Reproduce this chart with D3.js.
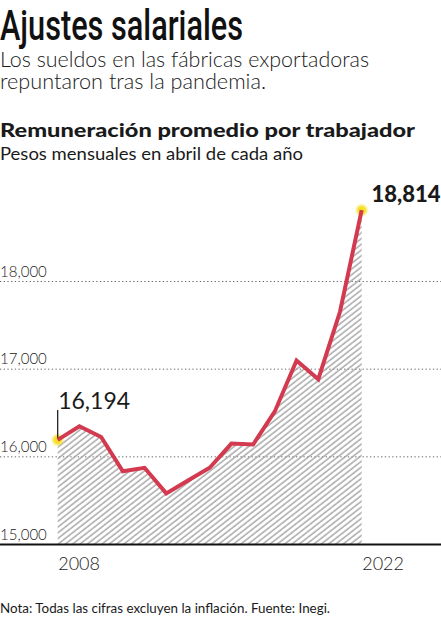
<!DOCTYPE html>
<html>
<head>
<meta charset="utf-8">
<script src="https://cdn.jsdelivr.net/npm/d3@7"></script>
<style>
  html, body { margin: 0; padding: 0; background: #fff; }
  svg { display: block; }
  text { font-family: Lato, "Open Sans", sans-serif; fill: #1a1a1a; }
</style>
</head>
<body>
<svg id="chart" width="441" height="620"></svg>
<script>
// ---- data ----
const years = [2008, 2009, 2010, 2011, 2012, 2013, 2014, 2015, 2016, 2017, 2018, 2019, 2020, 2021, 2022];
const salaries = [16194, 16348, 16227, 15836, 15875, 15583, 15730, 15875, 16151, 16140, 16518, 17098, 16886, 17655, 18814];
const yTicks = [15000, 16000, 17000, 18000];
const yTickLabels = ["15,000", "16,000", "17,000", "18,000"];
const xTickYears = [2008, 2022];
const firstLabel = "16,194";
const lastLabel = "18,814";

const svg = d3.select("#chart");

// ---- scales ----
const x = d3.scaleLinear().domain([2008, 2022]).range([57.7, 361.7]);
const y = d3.scaleLinear().domain([15000, 18000]).range([544.5, 281.5]);

// ---- titles ----
svg.append("text")
  .attr("x", 0).attr("y", 39.5)
  .attr("textLength", 243).attr("lengthAdjust", "spacingAndGlyphs")
  .style("font-family", "Roboto, sans-serif")
  .style("font-weight", 500)
  .style("font-size", "43px")
  .style("fill", "#111")
  .text("Ajustes salariales");

svg.append("text")
  .attr("x", 0).attr("y", 67)
  .attr("textLength", 369).attr("lengthAdjust", "spacingAndGlyphs")
  .style("font-weight", 300).style("font-size", "21px")
  .text("Los sueldos en las fábricas exportadoras");
svg.append("text")
  .attr("x", 0).attr("y", 89.3)
  .attr("textLength", 266).attr("lengthAdjust", "spacingAndGlyphs")
  .style("font-weight", 300).style("font-size", "21px")
  .text("repuntaron tras la pandemia.");

svg.append("text")
  .attr("x", 0).attr("y", 137.3)
  .attr("textLength", 415).attr("lengthAdjust", "spacingAndGlyphs")
  .style("font-weight", 900).style("font-size", "19.5px")
  .text("Remuneración promedio por trabajador");
svg.append("text")
  .attr("x", 0).attr("y", 160.2)
  .attr("textLength", 303).attr("lengthAdjust", "spacingAndGlyphs")
  .style("font-weight", 400).style("font-size", "17.5px")
  .text("Pesos mensuales en abril de cada año");

// ---- hatch pattern ----
const defs = svg.append("defs");
const pat = defs.append("pattern")
  .attr("id", "hatch")
  .attr("patternUnits", "userSpaceOnUse")
  .attr("width", 4.5).attr("height", 10)
  .attr("patternTransform", "rotate(52)");
pat.append("line")
  .attr("x1", 1).attr("y1", 0).attr("x2", 1).attr("y2", 10)
  .attr("stroke", "#a4a4a4").attr("stroke-width", 1.4);

const glow = defs.append("filter").attr("id", "glow")
  .attr("x", "-100%").attr("y", "-100%").attr("width", "300%").attr("height", "300%");
glow.append("feGaussianBlur").attr("stdDeviation", 1.2);

// ---- gridlines ----
const grid = svg.append("g");
grid.selectAll("line").data(yTicks.filter(d => d > 15000)).join("line")
  .attr("x1", 0).attr("x2", 441)
  .attr("y1", d => y(d)).attr("y2", d => y(d))
  .attr("stroke", "#666").attr("stroke-width", 1)
  .attr("stroke-dasharray", "1.3,2.4");

// ---- area ----
const area = d3.area()
  .x((d, i) => x(years[i]))
  .y0(y(15000))
  .y1(d => y(d));
svg.append("path")
  .datum(salaries)
  .attr("d", area)
  .attr("fill", "url(#hatch)");

// ---- tick labels ----
svg.append("g").selectAll("text").data(yTicks).join("text")
  .attr("x", 0).attr("y", d => y(d) - 5)
  .style("font-size", "15px").style("font-weight", 300)
  .text((d, i) => yTickLabels[i]);

// ---- axis ----
const xAxis = d3.axisBottom(x).tickValues(xTickYears).tickFormat(d3.format("d")).tickSize(0).tickPadding(0);
const axG = svg.append("g").attr("transform", `translate(0,${y(15000)})`).call(xAxis);
axG.select(".domain").remove();
axG.selectAll("text")
  .attr("y", 25).attr("dy", 0)
  .attr("text-anchor", "start")
  .style("font-family", "Lato, sans-serif")
  .style("font-size", "18px").style("font-weight", 300)
  .style("fill", "#1a1a1a");
svg.append("line")
  .attr("x1", 0).attr("x2", 441)
  .attr("y1", y(15000)).attr("y2", y(15000))
  .attr("stroke", "#111").attr("stroke-width", 2);

// ---- end dots ----
const ends = [0, salaries.length - 1];
svg.append("g").selectAll("circle").data(ends).join("circle")
  .attr("cx", i => x(years[i])).attr("cy", i => y(salaries[i]))
  .attr("r", 5.2).attr("fill", "#f6df22").attr("filter", "url(#glow)");

// ---- line ----
const line = d3.line().x((d, i) => x(years[i])).y(d => y(d));
svg.append("path")
  .datum(salaries)
  .attr("d", line)
  .attr("fill", "none")
  .attr("stroke", "#d33a50")
  .attr("stroke-width", 4)
  .attr("stroke-linejoin", "miter");

// ---- annotations ----
svg.append("line")
  .attr("x1", x(2008)).attr("x2", x(2008))
  .attr("y1", y(salaries[0]) - 2).attr("y2", 410)
  .attr("stroke", "#111").attr("stroke-width", 1.2);
svg.append("text")
  .attr("x", x(2008) + 0.5).attr("y", 409.3)
  .style("font-size", "23px").style("font-weight", 400)
  .text(firstLabel);
svg.append("text")
  .attr("x", 371.5).attr("y", 202.3)
  .style("font-size", "22px").style("font-weight", 900)
  .text(lastLabel);

// ---- footer ----
svg.append("text")
  .attr("x", 0).attr("y", 613.3)
  .attr("textLength", 330).attr("lengthAdjust", "spacingAndGlyphs")
  .style("font-size", "13.5px").style("font-weight", 400)
  .text("Nota: Todas las cifras excluyen la inflación. Fuente: Inegi.");
</script>
</body>
</html>
